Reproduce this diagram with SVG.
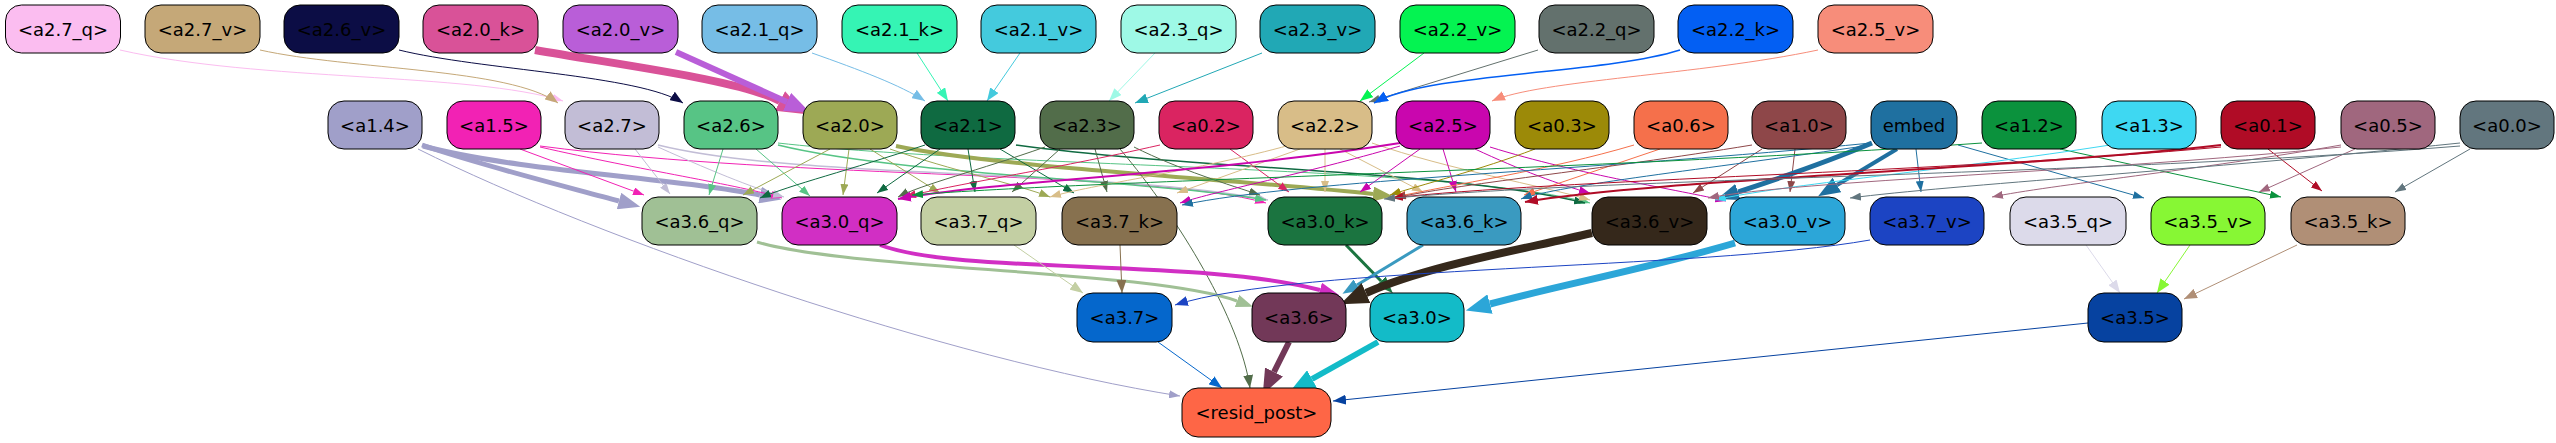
<svg xmlns="http://www.w3.org/2000/svg" width="2556" height="443" viewBox="0 0 2556 443">
<style>
.n rect{stroke:#000;stroke-width:1}
.n text{font-family:"DejaVu Sans",sans-serif;font-size:18px;text-anchor:middle;fill:#000}
#edges path{fill:none}
</style>
<defs>
<marker id="mA14" markerUnits="userSpaceOnUse" markerWidth="11" markerHeight="8" refX="11" refY="4" orient="auto" viewBox="0 0 11 8"><path d="M0,0L11,4L0,8z" fill="#a09fc9"/></marker>
<marker id="mA15" markerUnits="userSpaceOnUse" markerWidth="11" markerHeight="8" refX="11" refY="4" orient="auto" viewBox="0 0 11 8"><path d="M0,0L11,4L0,8z" fill="#f222b4"/></marker>
<marker id="mA27" markerUnits="userSpaceOnUse" markerWidth="11" markerHeight="8" refX="11" refY="4" orient="auto" viewBox="0 0 11 8"><path d="M0,0L11,4L0,8z" fill="#c2bdd6"/></marker>
<marker id="mA26" markerUnits="userSpaceOnUse" markerWidth="11" markerHeight="8" refX="11" refY="4" orient="auto" viewBox="0 0 11 8"><path d="M0,0L11,4L0,8z" fill="#57c485"/></marker>
<marker id="mA20" markerUnits="userSpaceOnUse" markerWidth="11" markerHeight="8" refX="11" refY="4" orient="auto" viewBox="0 0 11 8"><path d="M0,0L11,4L0,8z" fill="#9da955"/></marker>
<marker id="mA21" markerUnits="userSpaceOnUse" markerWidth="11" markerHeight="8" refX="11" refY="4" orient="auto" viewBox="0 0 11 8"><path d="M0,0L11,4L0,8z" fill="#0f6a41"/></marker>
<marker id="mA23" markerUnits="userSpaceOnUse" markerWidth="11" markerHeight="8" refX="11" refY="4" orient="auto" viewBox="0 0 11 8"><path d="M0,0L11,4L0,8z" fill="#526d4a"/></marker>
<marker id="mA02" markerUnits="userSpaceOnUse" markerWidth="11" markerHeight="8" refX="11" refY="4" orient="auto" viewBox="0 0 11 8"><path d="M0,0L11,4L0,8z" fill="#da2461"/></marker>
<marker id="mA22" markerUnits="userSpaceOnUse" markerWidth="11" markerHeight="8" refX="11" refY="4" orient="auto" viewBox="0 0 11 8"><path d="M0,0L11,4L0,8z" fill="#d8bd88"/></marker>
<marker id="mA25" markerUnits="userSpaceOnUse" markerWidth="11" markerHeight="8" refX="11" refY="4" orient="auto" viewBox="0 0 11 8"><path d="M0,0L11,4L0,8z" fill="#c906ae"/></marker>
<marker id="mA03" markerUnits="userSpaceOnUse" markerWidth="11" markerHeight="8" refX="11" refY="4" orient="auto" viewBox="0 0 11 8"><path d="M0,0L11,4L0,8z" fill="#9c8a08"/></marker>
<marker id="mA06" markerUnits="userSpaceOnUse" markerWidth="11" markerHeight="8" refX="11" refY="4" orient="auto" viewBox="0 0 11 8"><path d="M0,0L11,4L0,8z" fill="#f5704b"/></marker>
<marker id="mA10" markerUnits="userSpaceOnUse" markerWidth="11" markerHeight="8" refX="11" refY="4" orient="auto" viewBox="0 0 11 8"><path d="M0,0L11,4L0,8z" fill="#8e4749"/></marker>
<marker id="mEm" markerUnits="userSpaceOnUse" markerWidth="11" markerHeight="8" refX="11" refY="4" orient="auto" viewBox="0 0 11 8"><path d="M0,0L11,4L0,8z" fill="#1f70a0"/></marker>
<marker id="mA12" markerUnits="userSpaceOnUse" markerWidth="11" markerHeight="8" refX="11" refY="4" orient="auto" viewBox="0 0 11 8"><path d="M0,0L11,4L0,8z" fill="#0b923d"/></marker>
<marker id="mA13" markerUnits="userSpaceOnUse" markerWidth="11" markerHeight="8" refX="11" refY="4" orient="auto" viewBox="0 0 11 8"><path d="M0,0L11,4L0,8z" fill="#3ed8f2"/></marker>
<marker id="mA01" markerUnits="userSpaceOnUse" markerWidth="11" markerHeight="8" refX="11" refY="4" orient="auto" viewBox="0 0 11 8"><path d="M0,0L11,4L0,8z" fill="#b00c26"/></marker>
<marker id="mA05" markerUnits="userSpaceOnUse" markerWidth="11" markerHeight="8" refX="11" refY="4" orient="auto" viewBox="0 0 11 8"><path d="M0,0L11,4L0,8z" fill="#a0677e"/></marker>
<marker id="mA00" markerUnits="userSpaceOnUse" markerWidth="11" markerHeight="8" refX="11" refY="4" orient="auto" viewBox="0 0 11 8"><path d="M0,0L11,4L0,8z" fill="#62767e"/></marker>
<marker id="m27q" markerUnits="userSpaceOnUse" markerWidth="11" markerHeight="8" refX="11" refY="4" orient="auto" viewBox="0 0 11 8"><path d="M0,0L11,4L0,8z" fill="#fbbdf0"/></marker>
<marker id="m27v" markerUnits="userSpaceOnUse" markerWidth="13" markerHeight="10" refX="13" refY="5" orient="auto" viewBox="0 0 13 10"><path d="M0,0L13,5L0,10z" fill="#c5a878"/></marker>
<marker id="m26v" markerUnits="userSpaceOnUse" markerWidth="13" markerHeight="10" refX="13" refY="5" orient="auto" viewBox="0 0 13 10"><path d="M0,0L13,5L0,10z" fill="#0c0d45"/></marker>
<marker id="m21q" markerUnits="userSpaceOnUse" markerWidth="13" markerHeight="10" refX="13" refY="5" orient="auto" viewBox="0 0 13 10"><path d="M0,0L13,5L0,10z" fill="#76bde6"/></marker>
<marker id="m21k" markerUnits="userSpaceOnUse" markerWidth="13" markerHeight="10" refX="13" refY="5" orient="auto" viewBox="0 0 13 10"><path d="M0,0L13,5L0,10z" fill="#35f4b4"/></marker>
<marker id="m21v" markerUnits="userSpaceOnUse" markerWidth="13" markerHeight="10" refX="13" refY="5" orient="auto" viewBox="0 0 13 10"><path d="M0,0L13,5L0,10z" fill="#44cadd"/></marker>
<marker id="m23q" markerUnits="userSpaceOnUse" markerWidth="13" markerHeight="10" refX="13" refY="5" orient="auto" viewBox="0 0 13 10"><path d="M0,0L13,5L0,10z" fill="#9ef9e6"/></marker>
<marker id="m23v" markerUnits="userSpaceOnUse" markerWidth="13" markerHeight="10" refX="13" refY="5" orient="auto" viewBox="0 0 13 10"><path d="M0,0L13,5L0,10z" fill="#21a8b5"/></marker>
<marker id="m22v" markerUnits="userSpaceOnUse" markerWidth="13" markerHeight="10" refX="13" refY="5" orient="auto" viewBox="0 0 13 10"><path d="M0,0L13,5L0,10z" fill="#04f351"/></marker>
<marker id="m22q" markerUnits="userSpaceOnUse" markerWidth="11" markerHeight="8" refX="11" refY="4" orient="auto" viewBox="0 0 11 8"><path d="M0,0L11,4L0,8z" fill="#63716d"/></marker>
<marker id="m22k" markerUnits="userSpaceOnUse" markerWidth="14" markerHeight="11" refX="14" refY="5.5" orient="auto" viewBox="0 0 14 11"><path d="M0,0L14,5.5L0,11z" fill="#035ff3"/></marker>
<marker id="m25v" markerUnits="userSpaceOnUse" markerWidth="13" markerHeight="10" refX="13" refY="5" orient="auto" viewBox="0 0 13 10"><path d="M0,0L13,5L0,10z" fill="#f78d7a"/></marker>
<marker id="m37q" markerUnits="userSpaceOnUse" markerWidth="13" markerHeight="10" refX="13" refY="5" orient="auto" viewBox="0 0 13 10"><path d="M0,0L13,5L0,10z" fill="#c3cfa3"/></marker>
<marker id="m37k" markerUnits="userSpaceOnUse" markerWidth="13" markerHeight="10" refX="13" refY="5" orient="auto" viewBox="0 0 13 10"><path d="M0,0L13,5L0,10z" fill="#87714f"/></marker>
<marker id="m37v" markerUnits="userSpaceOnUse" markerWidth="13" markerHeight="10" refX="13" refY="5" orient="auto" viewBox="0 0 13 10"><path d="M0,0L13,5L0,10z" fill="#1c44c3"/></marker>
<marker id="m35q" markerUnits="userSpaceOnUse" markerWidth="13" markerHeight="10" refX="13" refY="5" orient="auto" viewBox="0 0 13 10"><path d="M0,0L13,5L0,10z" fill="#dcdaea"/></marker>
<marker id="m35v" markerUnits="userSpaceOnUse" markerWidth="14" markerHeight="11" refX="14" refY="5.5" orient="auto" viewBox="0 0 14 11"><path d="M0,0L14,5.5L0,11z" fill="#87f734"/></marker>
<marker id="m35k" markerUnits="userSpaceOnUse" markerWidth="13" markerHeight="10" refX="13" refY="5" orient="auto" viewBox="0 0 13 10"><path d="M0,0L13,5L0,10z" fill="#b08f76"/></marker>
<marker id="m37" markerUnits="userSpaceOnUse" markerWidth="13" markerHeight="10" refX="13" refY="5" orient="auto" viewBox="0 0 13 10"><path d="M0,0L13,5L0,10z" fill="#0567cc"/></marker>
<marker id="m35" markerUnits="userSpaceOnUse" markerWidth="13" markerHeight="10" refX="13" refY="5" orient="auto" viewBox="0 0 13 10"><path d="M0,0L13,5L0,10z" fill="#0642a0"/></marker>
<marker id="m23r" markerUnits="userSpaceOnUse" markerWidth="13" markerHeight="10" refX="13" refY="5" orient="auto" viewBox="0 0 13 10"><path d="M0,0L13,5L0,10z" fill="#526d4a"/></marker>
<marker id="t25" markerUnits="userSpaceOnUse" markerWidth="13" markerHeight="10" refX="13" refY="5" orient="auto" viewBox="0 0 13 10"><path d="M0,0L13,5L0,10z" fill="#c906ae"/></marker>
<marker id="t01" markerUnits="userSpaceOnUse" markerWidth="13" markerHeight="10" refX="13" refY="5" orient="auto" viewBox="0 0 13 10"><path d="M0,0L13,5L0,10z" fill="#b00c26"/></marker>
<marker id="t20k" markerUnits="userSpaceOnUse" markerWidth="28" markerHeight="22" refX="0" refY="11" orient="auto" viewBox="0 0 28 22"><path d="M0,0L28,11L0,22z" fill="#d95298"/></marker>
<marker id="t20v" markerUnits="userSpaceOnUse" markerWidth="25" markerHeight="20" refX="0" refY="10" orient="auto" viewBox="0 0 25 20"><path d="M0,0L25,10L0,20z" fill="#b95ed8"/></marker>
<marker id="t14" markerUnits="userSpaceOnUse" markerWidth="22" markerHeight="17" refX="0" refY="8.5" orient="auto" viewBox="0 0 22 17"><path d="M0,0L22,8.5L0,17z" fill="#a09fc9"/></marker>
<marker id="t20" markerUnits="userSpaceOnUse" markerWidth="20" markerHeight="15" refX="0" refY="7.5" orient="auto" viewBox="0 0 20 15"><path d="M0,0L20,7.5L0,15z" fill="#9da955"/></marker>
<marker id="tEm" markerUnits="userSpaceOnUse" markerWidth="22" markerHeight="17" refX="0" refY="8.5" orient="auto" viewBox="0 0 22 17"><path d="M0,0L22,8.5L0,17z" fill="#1f70a0"/></marker>
<marker id="t36q" markerUnits="userSpaceOnUse" markerWidth="17" markerHeight="13" refX="0" refY="6.5" orient="auto" viewBox="0 0 17 13"><path d="M0,0L17,6.5L0,13z" fill="#a0c095"/></marker>
<marker id="t30q" markerUnits="userSpaceOnUse" markerWidth="20" markerHeight="15" refX="0" refY="7.5" orient="auto" viewBox="0 0 20 15"><path d="M0,0L20,7.5L0,15z" fill="#d12fc4"/></marker>
<marker id="t30k" markerUnits="userSpaceOnUse" markerWidth="17" markerHeight="13" refX="0" refY="6.5" orient="auto" viewBox="0 0 17 13"><path d="M0,0L17,6.5L0,13z" fill="#1b7440"/></marker>
<marker id="t36k" markerUnits="userSpaceOnUse" markerWidth="17" markerHeight="13" refX="0" refY="6.5" orient="auto" viewBox="0 0 17 13"><path d="M0,0L17,6.5L0,13z" fill="#3a9ac0"/></marker>
<marker id="t36v" markerUnits="userSpaceOnUse" markerWidth="28" markerHeight="22" refX="0" refY="11" orient="auto" viewBox="0 0 28 22"><path d="M0,0L28,11L0,22z" fill="#35281b"/></marker>
<marker id="t30v" markerUnits="userSpaceOnUse" markerWidth="25" markerHeight="20" refX="0" refY="10" orient="auto" viewBox="0 0 25 20"><path d="M0,0L25,10L0,20z" fill="#2ca6d8"/></marker>
<marker id="t36" markerUnits="userSpaceOnUse" markerWidth="25" markerHeight="20" refX="0" refY="10" orient="auto" viewBox="0 0 25 20"><path d="M0,0L25,10L0,20z" fill="#723858"/></marker>
<marker id="t30" markerUnits="userSpaceOnUse" markerWidth="25" markerHeight="20" refX="0" refY="10" orient="auto" viewBox="0 0 25 20"><path d="M0,0L25,10L0,20z" fill="#13bbc8"/></marker>
</defs>

<g id="edges">
<!-- row1 -> row2 -->
<path d="M120,50 C260,82 470,72 563,101" stroke="#fbbdf0" marker-end="url(#m27q)"/>
<path d="M260,50 C350,70 510,68 558,103" stroke="#c5a878" marker-end="url(#m27v)"/>
<path d="M399,50 C480,70 640,75 683,103" stroke="#0c0d45" marker-end="url(#m26v)"/>
<path d="M535,50 C620,65 740,80 780,101" stroke="#d95298" stroke-width="8" marker-end="url(#t20k)"/>
<path d="M676,52 L787,102" stroke="#b95ed8" stroke-width="6" marker-end="url(#t20v)"/>
<path d="M812,53 C860,70 900,85 925,101" stroke="#76bde6" marker-end="url(#m21q)"/>
<path d="M917,53 L948,101" stroke="#35f4b4" marker-end="url(#m21k)"/>
<path d="M1020,53 L987,101" stroke="#44cadd" marker-end="url(#m21v)"/>
<path d="M1155,53 L1109,101" stroke="#9ef9e6" marker-end="url(#m23q)"/>
<path d="M1262,53 L1135,103" stroke="#21a8b5" marker-end="url(#m23v)"/>
<path d="M1424,53 L1360,101" stroke="#04f351" marker-end="url(#m22v)"/>
<path d="M1538,50 L1369,102" stroke="#63716d" marker-end="url(#m22q)"/>
<path d="M1680,50 C1600,75 1430,72 1374,103" stroke="#035ff3" stroke-width="1.5" marker-end="url(#m22k)"/>
<path d="M1818,50 C1700,75 1540,80 1492,101" stroke="#f78d7a" marker-end="url(#m25v)"/>

<!-- row2 -> row3 -->
<path d="M422,145 C480,165 560,185 619,201" stroke="#a09fc9" stroke-width="5" marker-end="url(#t14)"/>
<path d="M423,146 C520,172 680,178 760,195" stroke="#a09fc9" stroke-width="5" marker-end="url(#t14)"/>
<path d="M418,149 C600,240 950,360 1180,396" stroke="#a09fc9" marker-end="url(#mA14)"/>

<path d="M520,149 L644,195" stroke="#f222b4" marker-end="url(#mA15)"/>
<path d="M540,147 C640,170 740,185 782,198" stroke="#f222b4" marker-end="url(#mA15)"/>
<path d="M540,146 C800,180 1150,170 1266,203" stroke="#f222b4" marker-end="url(#mA15)"/>

<path d="M635,149 L670,194" stroke="#c2bdd6" marker-end="url(#mA27)"/>
<path d="M658,147 C720,175 760,190 784,197" stroke="#c2bdd6" marker-end="url(#mA27)"/>
<path d="M658,145 C800,180 1100,168 1268,200" stroke="#c2bdd6" stroke-width="1.5" marker-end="url(#mA27)"/>

<path d="M723,149 L709,195" stroke="#57c485" marker-end="url(#mA26)"/>
<path d="M756,149 L810,196" stroke="#57c485" marker-end="url(#mA26)"/>
<path d="M778,145 C900,175 1150,180 1266,200" stroke="#57c485" stroke-width="1.5" marker-end="url(#mA26)"/>
<path d="M778,143 C1000,168 1450,165 1590,203" stroke="#57c485" marker-end="url(#mA26)"/>

<path d="M830,149 L743,195" stroke="#9da955" marker-end="url(#mA20)"/>
<path d="M849,149 L843,195" stroke="#9da955" marker-end="url(#mA20)"/>
<path d="M870,149 L940,193" stroke="#9da955" marker-end="url(#mA20)"/>
<path d="M890,149 C950,170 1020,185 1050,197" stroke="#9da955" marker-end="url(#mA20)"/>
<path d="M896,146 C1000,168 1250,180 1373,194" stroke="#9da955" stroke-width="4" marker-end="url(#t20)"/>

<path d="M925,145 C850,170 790,185 760,198" stroke="#0f6a41" marker-end="url(#mA21)"/>
<path d="M940,149 L877,193" stroke="#0f6a41" marker-end="url(#mA21)"/>
<path d="M968,149 L975,192" stroke="#0f6a41" marker-end="url(#mA21)"/>
<path d="M1000,149 L1074,193" stroke="#0f6a41" marker-end="url(#mA21)"/>
<path d="M1016,145 C1200,170 1450,170 1585,203" stroke="#0f6a41" stroke-width="1.5" marker-end="url(#mA21)"/>

<path d="M1060,149 L1012,192" stroke="#526d4a" marker-end="url(#mA23)"/>
<path d="M1095,149 L1107,192" stroke="#526d4a" marker-end="url(#mA23)"/>
<path d="M1134,147 C1180,170 1230,185 1260,195" stroke="#526d4a" marker-end="url(#mA23)"/>
<path d="M1045,147 C980,170 920,185 898,197" stroke="#526d4a" marker-end="url(#mA23)"/>
<path d="M1120,149 C1180,220 1240,320 1250,388" stroke="#526d4a" marker-end="url(#m23r)"/>

<path d="M1160,145 C1050,170 950,185 905,197" stroke="#da2461" marker-end="url(#mA02)"/>
<path d="M1230,149 L1289,192" stroke="#da2461" marker-end="url(#mA02)"/>

<path d="M1290,145 C1200,170 1090,185 1050,197" stroke="#d8bd88" marker-end="url(#mA22)"/>
<path d="M1300,149 L1177,193" stroke="#d8bd88" marker-end="url(#mA22)"/>
<path d="M1325,149 L1325,192" stroke="#d8bd88" marker-end="url(#mA22)"/>
<path d="M1340,149 L1423,192" stroke="#d8bd88" marker-end="url(#mA22)"/>
<path d="M1372,143 C1450,170 1540,185 1590,200" stroke="#d8bd88" marker-end="url(#mA22)"/>

<path d="M1400,143 C1200,175 1000,180 898,199" stroke="#c906ae" stroke-width="2" marker-end="url(#t25)"/>
<path d="M1400,146 C1300,175 1220,190 1180,203" stroke="#c906ae" marker-end="url(#mA25)"/>
<path d="M1420,149 L1360,192" stroke="#c906ae" marker-end="url(#mA25)"/>
<path d="M1443,149 L1456,192" stroke="#c906ae" marker-end="url(#mA25)"/>
<path d="M1475,149 C1520,170 1560,185 1590,193" stroke="#c906ae" marker-end="url(#mA25)"/>
<path d="M1490,147 C1580,175 1680,190 1726,201" stroke="#c906ae" marker-end="url(#mA25)"/>

<path d="M1535,149 C1480,170 1420,185 1390,195" stroke="#9c8a08" marker-end="url(#mA03)"/>

<path d="M1660,149 L1524,195" stroke="#f5704b" marker-end="url(#mA06)"/>
<path d="M1634,145 C1550,170 1450,185 1395,197" stroke="#f5704b" marker-end="url(#mA06)"/>

<path d="M1762,149 L1693,193" stroke="#8e4749" marker-end="url(#mA10)"/>
<path d="M1795,149 L1790,192" stroke="#8e4749" marker-end="url(#mA10)"/>
<path d="M1752,145 C1600,170 1450,185 1395,198" stroke="#8e4749" marker-end="url(#mA10)"/>

<path d="M1872,143 C1820,165 1780,178 1738,192" stroke="#1f70a0" stroke-width="5" marker-end="url(#tEm)"/>
<path d="M1897,149 L1837,185" stroke="#1f70a0" stroke-width="4" marker-end="url(#tEm)"/>
<path d="M1916,149 L1921,192" stroke="#1f70a0" marker-end="url(#mEm)"/>
<path d="M1958,145 L2144,198" stroke="#1f70a0" marker-end="url(#mEm)"/>
<path d="M1871,143 C1600,170 1300,180 1182,205" stroke="#1f70a0" marker-end="url(#mEm)"/>
<path d="M1871,145 C1700,170 1560,185 1521,199" stroke="#1f70a0" marker-end="url(#mEm)"/>

<path d="M2060,149 L2281,197" stroke="#0b923d" marker-end="url(#mA12)"/>
<path d="M1982,143 C1600,170 1100,180 912,195" stroke="#0b923d" marker-end="url(#mA12)"/>

<path d="M2110,145 C1950,170 1780,185 1715,200" stroke="#3ed8f2" marker-end="url(#mA13)"/>

<path d="M2268,149 L2322,191" stroke="#b00c26" marker-end="url(#mA01)"/>
<path d="M2221,145 C2000,170 1650,180 1525,202" stroke="#b00c26" stroke-width="2" marker-end="url(#t01)"/>
<path d="M2221,147 C1950,172 1550,180 1392,198" stroke="#b00c26" marker-end="url(#mA01)"/>

<path d="M2355,149 L2259,192" stroke="#a0677e" marker-end="url(#mA05)"/>
<path d="M2341,145 C2200,170 2050,185 1992,197" stroke="#a0677e" marker-end="url(#mA05)"/>
<path d="M2341,147 C2100,172 1800,180 1708,198" stroke="#a0677e" marker-end="url(#mA05)"/>

<path d="M2470,149 L2395,192" stroke="#62767e" marker-end="url(#mA00)"/>
<path d="M2460,143 C2200,170 1950,185 1850,198" stroke="#62767e" marker-end="url(#mA00)"/>
<path d="M2460,146 C2100,175 1600,178 1384,199" stroke="#62767e" marker-end="url(#mA00)"/>

<!-- row3 -> row4 -->
<path d="M757,242 C850,270 1150,270 1237,301" stroke="#a0c095" stroke-width="3" marker-end="url(#t36q)"/>
<path d="M880,245 C960,275 1200,258 1320,290" stroke="#d12fc4" stroke-width="4" marker-end="url(#t30q)"/>
<path d="M1014,245 L1083,293" stroke="#c3cfa3" marker-end="url(#m37q)"/>
<path d="M1120,245 L1122,293" stroke="#87714f" marker-end="url(#m37k)"/>
<path d="M1346,245 L1381,281" stroke="#1b7440" stroke-width="3" marker-end="url(#t30k)"/>
<path d="M1423,245 L1357,285" stroke="#3a9ac0" stroke-width="3" marker-end="url(#t36k)"/>
<path d="M1592,233 C1520,250 1430,265 1366,293" stroke="#35281b" stroke-width="8" marker-end="url(#t36v)"/>
<path d="M1735,243 C1650,268 1560,285 1490,304" stroke="#2ca6d8" stroke-width="7" marker-end="url(#t30v)"/>
<path d="M1870,240 C1700,270 1300,265 1175,305" stroke="#1c44c3" marker-end="url(#m37v)"/>
<path d="M2086,245 L2120,293" stroke="#dcdaea" marker-end="url(#m35q)"/>
<path d="M2190,245 L2157,293" stroke="#87f734" marker-end="url(#m35v)"/>
<path d="M2297,245 L2184,299" stroke="#b08f76" marker-end="url(#m35k)"/>

<!-- row4 -> resid_post -->
<path d="M1158,342 L1222,388" stroke="#0567cc" marker-end="url(#m37)"/>
<path d="M1289,342 L1274,372" stroke="#723858" stroke-width="6" marker-end="url(#t36)"/>
<path d="M1378,342 L1312,379" stroke="#13bbc8" stroke-width="6" marker-end="url(#t30)"/>
<path d="M2088,323 L1333,401" stroke="#0642a0" marker-end="url(#m35)"/>
</g>

<!-- row 1 -->
<g id="a2.7_q" class="n"><rect x="5.5" y="5" width="115" height="48" rx="16" fill="#fbbdf0"/><text x="63" y="35.5">&lt;a2.7_q&gt;</text></g>
<g id="a2.7_v" class="n"><rect x="145" y="5" width="115" height="48" rx="16" fill="#c5a878"/><text x="202.5" y="35.5">&lt;a2.7_v&gt;</text></g>
<g id="a2.6_v" class="n"><rect x="284" y="5" width="115" height="48" rx="16" fill="#0c0d45"/><text x="341.5" y="35.5">&lt;a2.6_v&gt;</text></g>
<g id="a2.0_k" class="n"><rect x="423" y="5" width="115" height="48" rx="16" fill="#d95298"/><text x="480.5" y="35.5">&lt;a2.0_k&gt;</text></g>
<g id="a2.0_v" class="n"><rect x="563" y="5" width="115" height="48" rx="16" fill="#b95ed8"/><text x="620.5" y="35.5">&lt;a2.0_v&gt;</text></g>
<g id="a2.1_q" class="n"><rect x="702" y="5" width="115" height="48" rx="16" fill="#76bde6"/><text x="759.5" y="35.5">&lt;a2.1_q&gt;</text></g>
<g id="a2.1_k" class="n"><rect x="842" y="5" width="115" height="48" rx="16" fill="#35f4b4"/><text x="899.5" y="35.5">&lt;a2.1_k&gt;</text></g>
<g id="a2.1_v" class="n"><rect x="981" y="5" width="115" height="48" rx="16" fill="#44cadd"/><text x="1038.5" y="35.5">&lt;a2.1_v&gt;</text></g>
<g id="a2.3_q" class="n"><rect x="1121" y="5" width="115" height="48" rx="16" fill="#9ef9e6"/><text x="1178.5" y="35.5">&lt;a2.3_q&gt;</text></g>
<g id="a2.3_v" class="n"><rect x="1260" y="5" width="115" height="48" rx="16" fill="#21a8b5"/><text x="1317.5" y="35.5">&lt;a2.3_v&gt;</text></g>
<g id="a2.2_v" class="n"><rect x="1400" y="5" width="115" height="48" rx="16" fill="#04f351"/><text x="1457.5" y="35.5">&lt;a2.2_v&gt;</text></g>
<g id="a2.2_q" class="n"><rect x="1539" y="5" width="115" height="48" rx="16" fill="#63716d"/><text x="1596.5" y="35.5">&lt;a2.2_q&gt;</text></g>
<g id="a2.2_k" class="n"><rect x="1678" y="5" width="115" height="48" rx="16" fill="#035ff3"/><text x="1735.5" y="35.5">&lt;a2.2_k&gt;</text></g>
<g id="a2.5_v" class="n"><rect x="1818" y="5" width="115" height="48" rx="16" fill="#f78d7a"/><text x="1875.5" y="35.5">&lt;a2.5_v&gt;</text></g>

<!-- row 2 -->
<g id="a1.4" class="n"><rect x="328" y="101" width="94" height="48" rx="16" fill="#a09fc9"/><text x="375" y="131.5">&lt;a1.4&gt;</text></g>
<g id="a1.5" class="n"><rect x="447" y="101" width="94" height="48" rx="16" fill="#f222b4"/><text x="494" y="131.5">&lt;a1.5&gt;</text></g>
<g id="a2.7" class="n"><rect x="565" y="101" width="94" height="48" rx="16" fill="#c2bdd6"/><text x="612" y="131.5">&lt;a2.7&gt;</text></g>
<g id="a2.6" class="n"><rect x="684" y="101" width="94" height="48" rx="16" fill="#57c485"/><text x="731" y="131.5">&lt;a2.6&gt;</text></g>
<g id="a2.0" class="n"><rect x="803" y="101" width="94" height="48" rx="16" fill="#9da955"/><text x="850" y="131.5">&lt;a2.0&gt;</text></g>
<g id="a2.1" class="n"><rect x="921" y="101" width="94" height="48" rx="16" fill="#0f6a41"/><text x="968" y="131.5">&lt;a2.1&gt;</text></g>
<g id="a2.3" class="n"><rect x="1040" y="101" width="94" height="48" rx="16" fill="#526d4a"/><text x="1087" y="131.5">&lt;a2.3&gt;</text></g>
<g id="a0.2" class="n"><rect x="1159" y="101" width="94" height="48" rx="16" fill="#da2461"/><text x="1206" y="131.5">&lt;a0.2&gt;</text></g>
<g id="a2.2" class="n"><rect x="1278" y="101" width="94" height="48" rx="16" fill="#d8bd88"/><text x="1325" y="131.5">&lt;a2.2&gt;</text></g>
<g id="a2.5" class="n"><rect x="1396" y="101" width="94" height="48" rx="16" fill="#c906ae"/><text x="1443" y="131.5">&lt;a2.5&gt;</text></g>
<g id="a0.3" class="n"><rect x="1515" y="101" width="94" height="48" rx="16" fill="#9c8a08"/><text x="1562" y="131.5">&lt;a0.3&gt;</text></g>
<g id="a0.6" class="n"><rect x="1634" y="101" width="94" height="48" rx="16" fill="#f5704b"/><text x="1681" y="131.5">&lt;a0.6&gt;</text></g>
<g id="a1.0" class="n"><rect x="1752" y="101" width="94" height="48" rx="16" fill="#8e4749"/><text x="1799" y="131.5">&lt;a1.0&gt;</text></g>
<g id="embed" class="n"><rect x="1871" y="101" width="86" height="48" rx="16" fill="#1f70a0"/><text x="1914" y="131.5">embed</text></g>
<g id="a1.2" class="n"><rect x="1982" y="101" width="94" height="48" rx="16" fill="#0b923d"/><text x="2029" y="131.5">&lt;a1.2&gt;</text></g>
<g id="a1.3" class="n"><rect x="2102" y="101" width="94" height="48" rx="16" fill="#3ed8f2"/><text x="2149" y="131.5">&lt;a1.3&gt;</text></g>
<g id="a0.1" class="n"><rect x="2221" y="101" width="94" height="48" rx="16" fill="#b00c26"/><text x="2268" y="131.5">&lt;a0.1&gt;</text></g>
<g id="a0.5" class="n"><rect x="2341" y="101" width="94" height="48" rx="16" fill="#a0677e"/><text x="2388" y="131.5">&lt;a0.5&gt;</text></g>
<g id="a0.0" class="n"><rect x="2460" y="101" width="94" height="48" rx="16" fill="#62767e"/><text x="2507" y="131.5">&lt;a0.0&gt;</text></g>

<!-- row 3 -->
<g id="a3.6_q" class="n"><rect x="642" y="197" width="115" height="48" rx="16" fill="#a0c095"/><text x="699.5" y="227.5">&lt;a3.6_q&gt;</text></g>
<g id="a3.0_q" class="n"><rect x="782" y="197" width="115" height="48" rx="16" fill="#d12fc4"/><text x="839.5" y="227.5">&lt;a3.0_q&gt;</text></g>
<g id="a3.7_q" class="n"><rect x="921" y="197" width="115" height="48" rx="16" fill="#c3cfa3"/><text x="978.5" y="227.5">&lt;a3.7_q&gt;</text></g>
<g id="a3.7_k" class="n"><rect x="1062" y="197" width="115" height="48" rx="16" fill="#87714f"/><text x="1119.5" y="227.5">&lt;a3.7_k&gt;</text></g>
<g id="a3.0_k" class="n"><rect x="1268" y="197" width="114" height="48" rx="16" fill="#1b7440"/><text x="1325" y="227.5">&lt;a3.0_k&gt;</text></g>
<g id="a3.6_k" class="n"><rect x="1407" y="197" width="114" height="48" rx="16" fill="#3a9ac0"/><text x="1464" y="227.5">&lt;a3.6_k&gt;</text></g>
<g id="a3.6_v" class="n"><rect x="1592" y="197" width="115" height="48" rx="16" fill="#35281b"/><text x="1649.5" y="227.5">&lt;a3.6_v&gt;</text></g>
<g id="a3.0_v" class="n"><rect x="1730" y="197" width="115" height="48" rx="16" fill="#2ca6d8"/><text x="1787.5" y="227.5">&lt;a3.0_v&gt;</text></g>
<g id="a3.7_v" class="n"><rect x="1870" y="197" width="114" height="48" rx="16" fill="#1c44c3"/><text x="1927" y="227.5">&lt;a3.7_v&gt;</text></g>
<g id="a3.5_q" class="n"><rect x="2010" y="197" width="116" height="48" rx="16" fill="#dcdaea"/><text x="2068" y="227.5">&lt;a3.5_q&gt;</text></g>
<g id="a3.5_v" class="n"><rect x="2151" y="197" width="114" height="48" rx="16" fill="#87f734"/><text x="2208" y="227.5">&lt;a3.5_v&gt;</text></g>
<g id="a3.5_k" class="n"><rect x="2291" y="197" width="114" height="48" rx="16" fill="#b08f76"/><text x="2348" y="227.5">&lt;a3.5_k&gt;</text></g>

<!-- row 4 -->
<g id="a3.7" class="n"><rect x="1077" y="293" width="95" height="49" rx="16" fill="#0567cc"/><text x="1124.5" y="324">&lt;a3.7&gt;</text></g>
<g id="a3.6" class="n"><rect x="1252" y="293" width="94" height="49" rx="16" fill="#723858"/><text x="1299" y="324">&lt;a3.6&gt;</text></g>
<g id="a3.0" class="n"><rect x="1370" y="293" width="94" height="49" rx="16" fill="#13bbc8"/><text x="1417" y="324">&lt;a3.0&gt;</text></g>
<g id="a3.5" class="n"><rect x="2088" y="293" width="94" height="49" rx="16" fill="#0642a0"/><text x="2135" y="324">&lt;a3.5&gt;</text></g>

<!-- output -->
<g id="resid_post" class="n"><rect x="1182" y="388" width="149" height="49" rx="16" fill="#fe6646"/><text x="1256.5" y="419">&lt;resid_post&gt;</text></g>
</svg>
